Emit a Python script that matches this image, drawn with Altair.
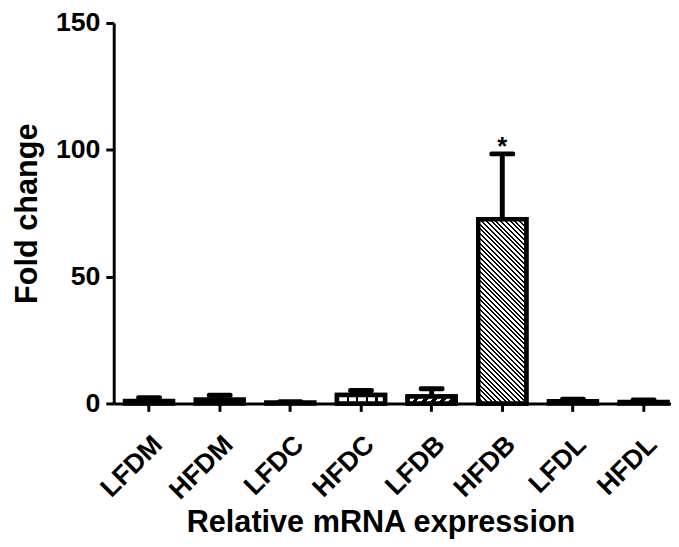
import altair as alt
import pandas as pd

categories = ["LFDM", "HFDM", "LFDC", "HFDC", "LFDB", "HFDB", "LFDL", "HFDL"]
means = [1.0, 1.6, 0.4, 3.3, 2.7, 72.6, 0.9, 0.6]
errors = [1.3, 1.6, 0.3, 1.8, 3.1, 25.8, 0.8, 0.8]
marks = ["", "", "", "", "", "*", "", ""]

df = pd.DataFrame({
    "cat": categories,
    "mean": means,
    "upper": [m + e for m, e in zip(means, errors)],
    "sig": marks,
})

FONT = "Liberation Sans"
PLOT_H = 385
X_RANGE = 572
P_IN, P_OUT = 0.32, 0.16
step = X_RANGE / (len(categories) - P_IN + 2 * P_OUT)
bw = step * (1 - P_IN)
px_per_unit = PLOT_H / 150.0


def stripes(n, frac, x1, y1, x2, y2):
    stops = []
    for i in range(n):
        a = i / n
        b = (i + frac) / n
        c = (i + 1) / n
        stops += [alt.GradientStop(color="black", offset=a),
                  alt.GradientStop(color="black", offset=b),
                  alt.GradientStop(color="white", offset=b),
                  alt.GradientStop(color="white", offset=c)]
    return alt.LinearGradient(gradient="linear", stops=stops, x1=x1, y1=y1, x2=x2, y2=y2)


def diag_grad(value, period, frac, back=True):
    W = bw
    H = value * px_per_unit
    k = (W + H) / (W * W + H * H)
    n = max(1, round((W + H) / period))
    if back:
        return stripes(n, frac, 0, 1, k * W, 1 - k * H)
    return stripes(n, frac, 0, 0, k * W, k * H)


x_enc = alt.X("cat:N", sort=categories,
              scale=alt.Scale(range=[0, X_RANGE], paddingInner=P_IN, paddingOuter=P_OUT),
              axis=alt.Axis(title="Relative mRNA expression", labelAngle=-45,
                            titleX=270, titleY=130, titleAlign="center",
                            titleBaseline="alphabetic"))
y_enc = alt.Y("mean:Q", scale=alt.Scale(domain=[0, 150], nice=False),
              axis=alt.Axis(title="Fold change", values=[0, 50, 100, 150],
                            titleX=-78, titleY=192.5, titleAlign="center",
                            titleBaseline="alphabetic"))

base = alt.Chart(df)

err_rule = base.mark_rule(color="black", strokeWidth=5).encode(
    x=x_enc, y=y_enc, y2="upper:Q")
err_cap = base.mark_tick(color="black", opacity=1, thickness=5, size=26, cornerRadius=2).encode(
    x=x_enc, y=alt.Y("upper:Q"))

bars = base.mark_bar(fill="white", stroke="black", strokeWidth=4.5).encode(x=x_enc, y=y_enc)

idx = {c: i for i, c in enumerate(categories)}
hfdc = base.transform_filter(alt.datum.cat == "HFDC").mark_bar(
    fill=stripes(5, 0.22, 0, 0, 1, 0), stroke="black", strokeWidth=4.5).encode(x=x_enc, y=y_enc)
lfdb = base.transform_filter(alt.datum.cat == "LFDB").mark_bar(
    fill=diag_grad(means[idx["LFDB"]], 9, 0.5, back=False), stroke="black",
    strokeWidth=4.5).encode(x=x_enc, y=y_enc)
hfdb = base.transform_filter(alt.datum.cat == "HFDB").mark_bar(
    fill=diag_grad(means[idx["HFDB"]], 4.8, 0.42, back=True), stroke="black",
    strokeWidth=4.5).encode(x=x_enc, y=y_enc)

star = base.mark_text(font=FONT, fontSize=26, fontWeight="bold", baseline="alphabetic",
                      dy=1, color="black").encode(x=x_enc, y=alt.Y("upper:Q"), text="sig:N")

chart = alt.layer(err_rule, err_cap, bars, hfdc, lfdb, hfdb, star).properties(
    width=564, height=PLOT_H,
    autosize=alt.AutoSizeParams(type="none"),
    padding={"left": 107, "top": 12, "right": 0, "bottom": 134},
).configure_view(stroke=None).configure_axis(
    domainColor="black", domainWidth=3, tickColor="black", tickWidth=3, tickSize=8,
    labelFont=FONT, labelFontWeight="bold", labelColor="black",
    titleFont=FONT, titleFontWeight="bold", titleColor="black", titleFontSize=31,
    grid=False,
).configure_axisY(labelFontSize=27, labelPadding=6).configure_axisX(
    labelFontSize=27, labelPadding=20)

chart.save("out.html", embed_options={"renderer": "svg", "actions": False})
